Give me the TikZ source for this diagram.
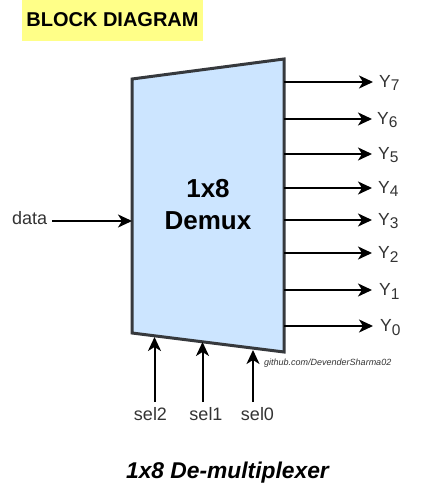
\documentclass[tikz,border=0pt]{standalone}
\usepackage{fontspec}
\setmainfont{Liberation Sans}
\usetikzlibrary{arrows.meta}
\definecolor{bodyfill}{HTML}{CCE5FF}
\definecolor{bodyline}{HTML}{36393D}
\definecolor{banner}{HTML}{FFFF88}
\definecolor{ink}{HTML}{333333}
\newcommand{\fsz}[1]{\fontsize{#1}{#1}\selectfont}
\newcommand{\ysub}[1]{Y\raisebox{-3.5pt}{\fsz{15.5}#1}}
\tikzset{
  x=1pt,y=-1pt,
  wire/.style={line width=2pt,black,-{Stealth[length=14pt,width=13pt,inset=4pt]}},
  lbl/.style={inner sep=0pt,text=ink,font=\fsz{18}},
  outlbl/.style={lbl,anchor=base west,font=\fsz{17.5}},
  sellbl/.style={lbl,anchor=base},
  blockshape/.style={fill=bodyfill,draw=bodyline,line width=3pt,line join=miter},
  bannerbox/.style={fill=banner,draw=none,inner sep=0pt,minimum width=181pt,minimum height=41pt},
  bigtext/.style={align=center,font=\fsz{26}\bfseries,inner sep=0pt}
}
\begin{document}
\begin{tikzpicture}
\useasboundingbox (0,0) rectangle (428,502);
\node[bannerbox] (banner) at (112.5,20.5) {};
\node[inner sep=0pt,anchor=base,font=\fsz{20}\bfseries] (bannertext) at (112.5,27) {BLOCK DIAGRAM};

\coordinate (tl) at (132,79);
\coordinate (tr) at (284,59);
\coordinate (br) at (284,352);
\coordinate (bl) at (132,333);
\draw[blockshape] (tl) -- (tr) -- (br) -- (bl) -- cycle;

\node[bigtext] (block) at (208,205) {1x8\\[6pt]Demux};

\node[lbl,anchor=base west] (data) at (12,225) {data};
\coordinate (datain) at (52,221);
\coordinate (dataport) at (132,221);
\draw[wire] (datain) -- (dataport);

\foreach \dg/\py/\ex/\lx in {7/82/373/379,6/119/372/377,5/154/372/378,4/188/372/378,3/220/372/378,2/253/372/378,1/290/372/379,0/326/373/380}{
  \coordinate (p\dg) at (284,\py);
  \coordinate (e\dg) at (\ex,\py);
  \draw[wire] (p\dg) -- (e\dg);
  \node[outlbl] (Y\dg) at (\lx,\py+5.5) {\ysub{\dg}};
}

\foreach \nm/\sx/\lx/\ty in {2/154.5/150.5/337,1/202.5/206/342,0/253/257.5/350}{
  \node[sellbl] (sel\nm) at (\lx,420) {sel\nm};
  \coordinate (st\nm) at (\sx,402);
  \coordinate (sp\nm) at (\sx,\ty);
  \draw[wire] (st\nm) -- (sp\nm);
}

\node[inner sep=0pt,anchor=base west,font=\fsz{9}\itshape,text=ink] (credit) at (264,365) {github.com/DevenderSharma02};

\node[inner sep=0pt,anchor=base,font=\fsz{22.8}\bfseries\itshape] (title) at (227.5,478) {1x8 De-multiplexer};
\end{tikzpicture}
\end{document}
